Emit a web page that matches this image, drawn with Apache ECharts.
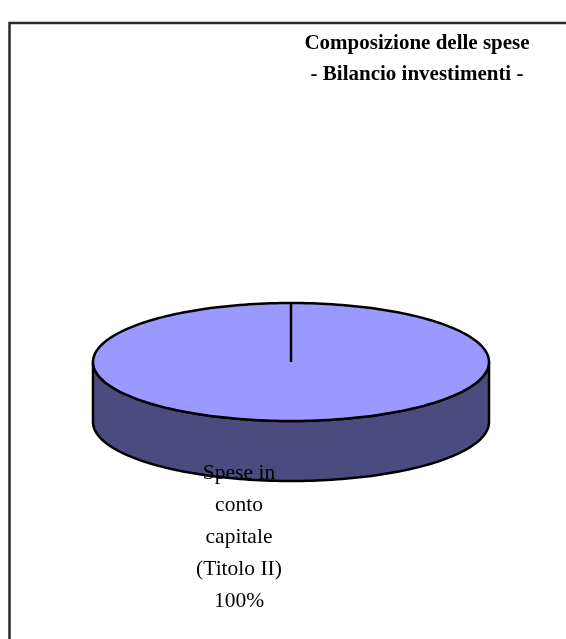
<!DOCTYPE html>
<html>
<head>
<meta charset="utf-8">
<script src="https://cdn.jsdelivr.net/npm/echarts/dist/echarts.min.js"></script>
<style>html,body{margin:0;padding:0;background:#fff}#c{width:566px;height:639px}</style>
</head>
<body>
<div id="c"></div>
<script>
// ---- data ----
const titleLines = ['Composizione delle spese', '- Bilancio investimenti -'];
const categories = ['Spese in\nconto\ncapitale\n(Titolo II)'];
const values = [100];
const topColors = ['#9999FF'];
const sideColors = ['#4B4B80'];

// ---- layout ----
const CX = 291, CY = 362, RX = 198, RY = 59, DEPTH = 60;
const total = values.reduce((a, b) => a + b, 0);

function ell(a, dz) { return [CX + RX * Math.cos(a), CY + RY * Math.sin(a) + dz]; }
function arc(a0, a1, dz, n) {
  const pts = [];
  for (let s = 0; s <= n; s++) pts.push(ell(a0 + (a1 - a0) * s / n, dz));
  return pts;
}

const chart = echarts.init(document.getElementById('c'), null, { renderer: 'canvas' });
chart.setOption({
  animation: false,
  backgroundColor: '#fff',
  title: {
    text: titleLines.join('\n'),
    left: 417, top: 28, padding: 0, textAlign: 'center',
    textStyle: { fontFamily: 'Liberation Serif', fontWeight: 'bold', fontSize: 21, lineHeight: 31, color: '#000' }
  },
  graphic: [{
    type: 'rect', silent: true, z: -1,
    shape: { x: 9.5, y: 23, width: 700, height: 700 },
    style: { fill: 'none', stroke: '#2a2a2a', lineWidth: 2.5 }
  }],
  series: [{
    type: 'custom',
    coordinateSystem: 'none',
    data: values.map((v, i) => ({ value: v, name: categories[i] })),
    renderItem: function (params, api) {
      const i = params.dataIndex;
      let start = -Math.PI / 2;
      for (let k = 0; k < i; k++) start += values[k] / total * Math.PI * 2;
      const sweep = api.value(0) / total * Math.PI * 2;
      const end = start + sweep;
      const full = sweep >= Math.PI * 2 - 1e-6;
      const children = [];
      // side (front visible part, angles in [0, PI])
      const a0 = Math.max(start, 0), a1 = Math.min(end, Math.PI);
      if (a1 > a0) {
        const pts = arc(a0, a1, 0, 120).concat(arc(a1, a0, DEPTH, 120));
        children.push({ type: 'polygon', shape: { points: pts },
          style: { fill: sideColors[i % sideColors.length], stroke: '#000', lineWidth: 2.5, lineJoin: 'round' } });
      }
      // top
      const topPts = (full ? [] : [[CX, CY]]).concat(arc(start, end, 0, 240));
      children.push({ type: 'polygon', shape: { points: topPts },
        style: { fill: topColors[i % topColors.length], stroke: '#000', lineWidth: 2.5, lineJoin: 'round' } });
      // radial edge
      const p = ell(start, 0);
      children.push({ type: 'line', shape: { x1: CX, y1: CY, x2: p[0], y2: p[1] },
        style: { stroke: '#000', lineWidth: 2.5 } });
      // label
      const pct = Math.round(api.value(0) / total * 100) + '%';
      children.push({ type: 'text', z2: 10,
        style: { x: CX - 52, y: CY + RY + DEPTH - 24, text: categories[i] + '\n' + pct,
          fill: '#000', fontFamily: 'Liberation Serif', fontSize: 21.5, lineHeight: 32,
          align: 'center', verticalAlign: 'top' } });
      return { type: 'group', children: children };
    }
  }]
});
</script>
</body>
</html>
